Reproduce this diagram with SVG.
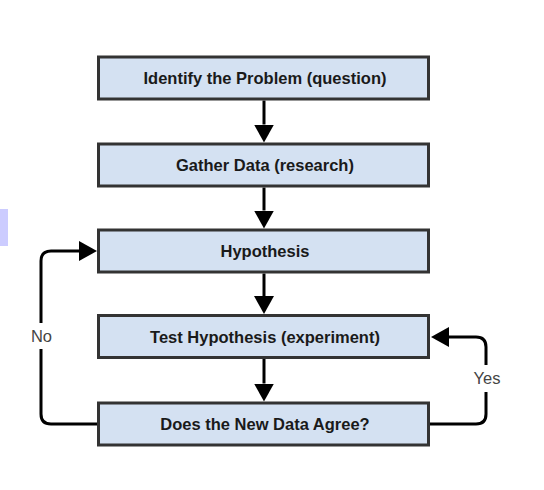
<svg xmlns="http://www.w3.org/2000/svg" width="544" height="490" viewBox="0 0 544 490">
<defs>
<style>
.box{fill:#d4e1f2;stroke:#333333;stroke-width:3}
.lbl{font-family:"Liberation Sans",Arial,sans-serif;font-size:16.5px;font-weight:bold;fill:#1a1a1a;text-anchor:middle}
.edge{fill:none;stroke:#000000;stroke-width:3}
.elbl{font-family:"Liberation Sans",Arial,sans-serif;font-size:16.5px;fill:#444444;text-anchor:middle}
</style>
<marker id="arr" markerUnits="userSpaceOnUse" markerWidth="19" markerHeight="20" refX="0" refY="10" orient="auto" viewBox="0 0 19 20">
<path d="M0,0 L18,10 L0,20 Z" fill="#000000"/>
</marker>
</defs>
<rect x="0" y="209" width="8" height="37" fill="#ccccff"/>
<g id="connectors">
<path class="edge" d="M264,100.5 V124.5" marker-end="url(#arr)"/>
<path class="edge" d="M264,187.5 V210.5" marker-end="url(#arr)"/>
<path class="edge" d="M264,273.5 V296" marker-end="url(#arr)"/>
<path class="edge" d="M264,359 V383.5" marker-end="url(#arr)"/>
<g id="edge-no">
<path class="edge" d="M97,424 H51 Q41,424 41,414 V349"/>
<path class="edge" d="M41,323 V261 Q41,251 51,251 H79" marker-end="url(#arr)"/>
<text class="elbl" x="41.5" y="342">No</text>
</g>
<g id="edge-yes">
<path class="edge" d="M430,424 H476 Q486,424 486,414 V392"/>
<path class="edge" d="M486,365 V347 Q486,337 476,337 H449" marker-end="url(#arr)"/>
<text class="elbl" x="487" y="384">Yes</text>
</g>
</g>
<g id="n1"><rect class="box" x="98.5" y="57" width="330" height="42"/><text class="lbl" x="265" y="83.5">Identify the Problem (question)</text></g>
<g id="n2"><rect class="box" x="98.5" y="144" width="330" height="42"/><text class="lbl" x="265" y="170.5">Gather Data (research)</text></g>
<g id="n3"><rect class="box" x="98.5" y="230" width="330" height="42"/><text class="lbl" x="265" y="256.5">Hypothesis</text></g>
<g id="n4"><rect class="box" x="98.5" y="315.5" width="330" height="42"/><text class="lbl" x="265" y="342.5">Test Hypothesis (experiment)</text></g>
<g id="n5"><rect class="box" x="98.5" y="403" width="330" height="42"/><text class="lbl" x="265" y="429.5">Does the New Data Agree?</text></g>
</svg>
